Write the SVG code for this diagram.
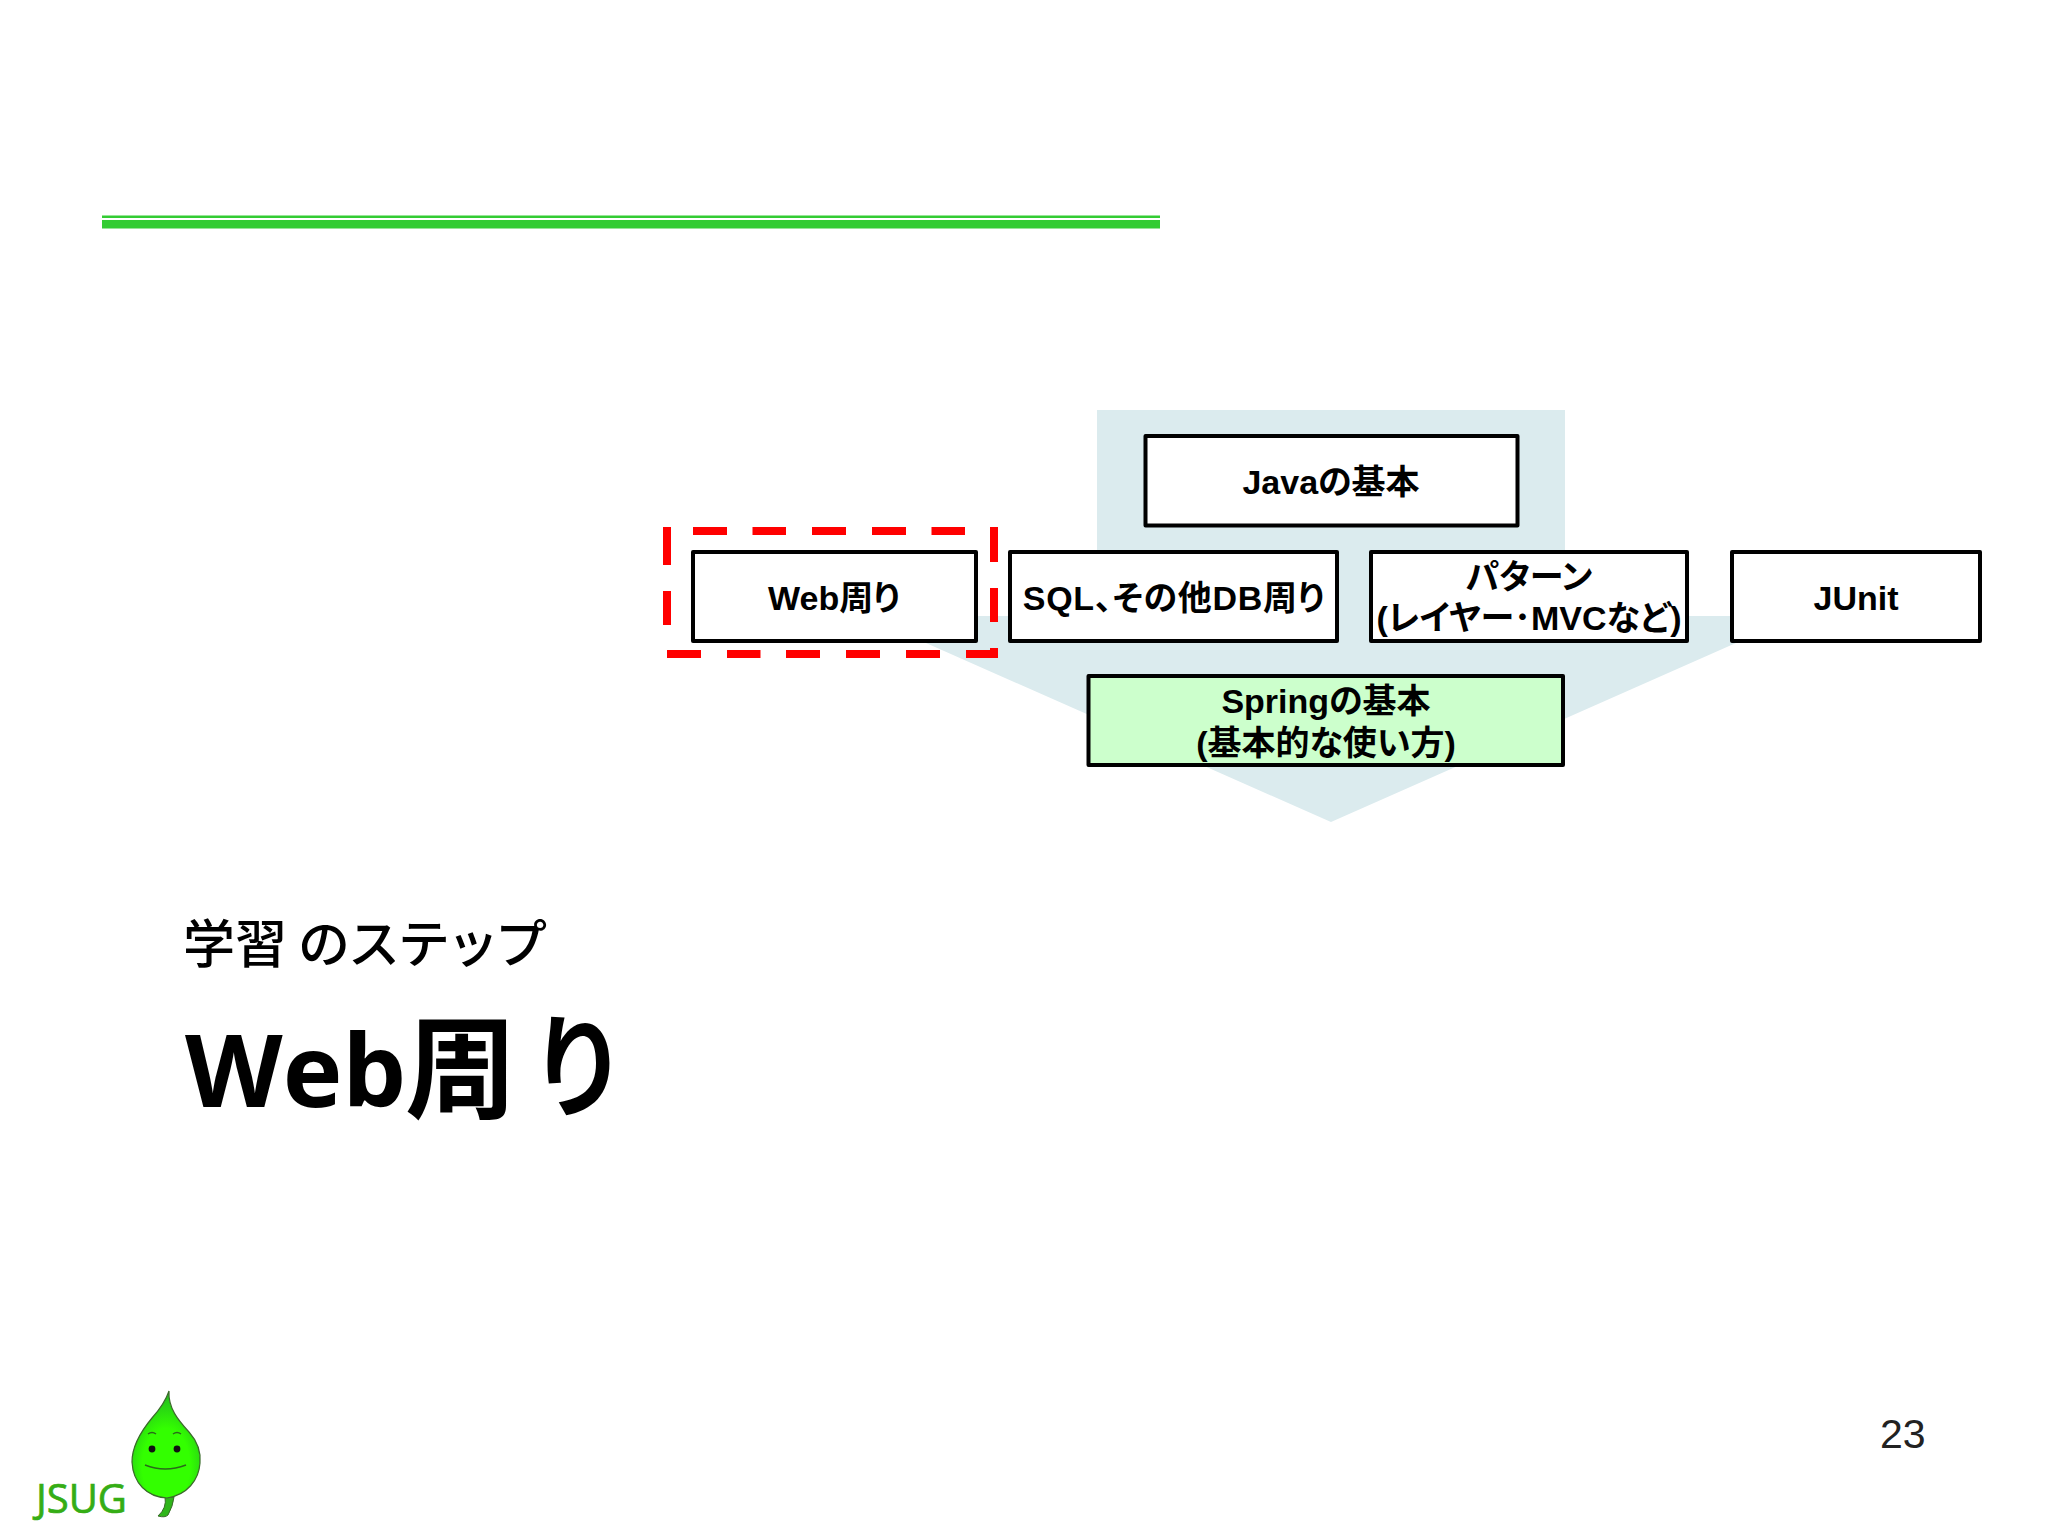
<svg xmlns="http://www.w3.org/2000/svg" width="2048" height="1536" viewBox="0 0 2048 1536">
<style>
.box{fill:#fff;stroke:#000;stroke-width:4;stroke-linejoin:round}
.lbl{font-family:"Liberation Sans","Noto Sans CJK JP",sans-serif;font-weight:700;font-size:34px;text-anchor:middle;fill:#000;font-feature-settings:"palt"}
</style>
<defs>
<radialGradient id="leaf" cx="0.5" cy="0.7" r="0.7"><stop offset="0.5" stop-color="#33ff00"/><stop offset="1" stop-color="#22b522"/></radialGradient>
</defs>
<rect width="2048" height="1536" fill="#fff"/>
<g id="rule"><rect x="102" y="215.500" width="1058" height="2.500" fill="#3c3"/><rect x="102" y="220" width="1058" height="8.500" fill="#3c3"/></g>
<g id="connectors"><path id="arrow" d="M1097 410H1565V616H1797L1331 822L865 616H1097Z" fill="#dbebee"/></g>
<g id="highlight"><path d="M693 531H727M752.500 531H786M812 531H846M872 531H906M931.500 531H965M990 531H998M994 527V562M994 588V622M994 648V658M998 654H966M940 654H906M880 654H846M820 654H786M760.500 654H727M701 654H667M667 527V565M667 591V625" fill="none" stroke="#f00" stroke-width="8"/></g>
<g id="node-java"><rect class="box" x="1145.500" y="436" width="372" height="89.500"/><text class="lbl" x="1331" y="494">Javaの基本</text></g>
<g id="node-web"><rect class="box" x="693" y="552" width="283" height="89"/><text class="lbl" x="834" y="610">Web周り</text></g>
<g id="node-sql"><rect class="box" x="1010" y="552" width="327" height="89"/><text class="lbl" x="1174" y="610" letter-spacing=".7">SQL、その他DB周り</text></g>
<g id="node-pattern"><rect class="box" x="1371" y="552" width="316" height="89"/><text class="lbl" x="1529" y="589">パターン</text><text class="lbl" x="1529" y="630">(レイヤー･MVCなど)</text></g>
<g id="node-junit"><rect class="box" x="1732" y="552" width="248" height="89"/><text class="lbl" x="1856" y="610">JUnit</text></g>
<g id="node-spring"><rect class="box" style="fill:#cfc" x="1088.500" y="676" width="474.500" height="89"/><text class="lbl" x="1326" y="713">Springの基本</text><text class="lbl" x="1326" y="755">(基本的な使い方)</text></g>
<g id="title">
<text x="183 235 298 348 398 447 495" y="963" font-family="'Noto Sans CJK JP',sans-serif" font-weight="500" font-size="52" fill="#000">学習のステップ</text>
<text x="185" y="1107" font-family="'Open Sans','Noto Sans CJK JP',sans-serif" font-weight="700" font-size="101" fill="#000">Web</text>
<text x="405" y="1110" font-family="'Noto Sans CJK JP',sans-serif" font-weight="700" font-size="112" fill="#000">周</text>
<text transform="translate(529 1108) scale(.88 1)" font-family="'Noto Sans CJK JP',sans-serif" font-weight="700" font-size="112" fill="#000">り</text>
</g>
<g id="page"><text x="1880" y="1448" font-family="'Liberation Sans',sans-serif" font-size="41" fill="#222">23</text></g>
<g id="logo">
<text x="36" y="1513" font-family="'Open Sans',sans-serif" font-size="40" fill="#35ad15" stroke="#35ad15" stroke-width=".7">JSUG</text>
<path d="M165 1497Q167 1508 158 1516Q165 1518 168 1515Q173 1506 174 1497Z" fill="#2fb51a" stroke="#3a6a2a" stroke-width="1"/>
<path d="M169 1391C168 1408 178 1420 189 1432C197 1441 201 1452 200 1463C199 1480 187 1495 167 1498C147 1497 133 1483 132 1462C132 1445 142 1430 152 1418C160 1409 166 1400 169 1391Z" fill="url(#leaf)" stroke="#3a6a2a" stroke-width="1.200"/>
<circle cx="152" cy="1449" r="3.400" fill="#111"/><circle cx="177" cy="1449" r="3.400" fill="#111"/>
<path d="M148 1434Q152 1431 156 1434M173 1434Q177 1431 181 1434M145 1465Q165 1473 186 1465" fill="none" stroke="#2a6a1a" stroke-width="1.500"/>
</g>
</svg>
